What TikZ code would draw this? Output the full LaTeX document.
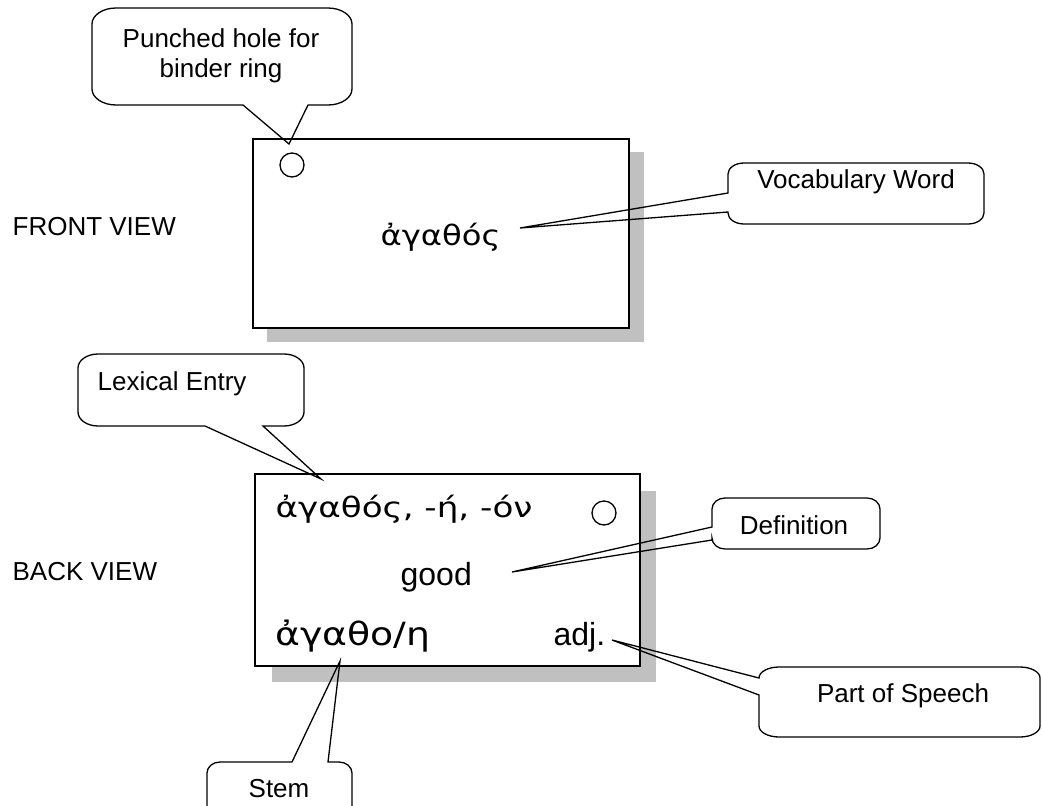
\documentclass[tikz,border=0pt]{standalone}
\usepackage{fontspec}
\setmainfont{Liberation Sans}
\newfontfamily\grk{DejaVu Sans}
\definecolor{shadowgray}{HTML}{C0C0C0}
\begin{document}
\begin{tikzpicture}[x=1pt,y=-1pt,line width=1.3pt,
  lbl/.style={inner sep=0pt,font=\fontsize{26}{30}\selectfont},
  big/.style={inner sep=0pt,font=\fontsize{32}{36}\selectfont},
  greek/.style={inner sep=0pt,font=\grk\fontsize{28}{32}\selectfont},
  card/.style={draw=black,fill=white,line width=1.3pt},
  shadow/.style={fill=shadowgray,draw=none},
  hole/.style={draw=black,line width=1.3pt},
  callout/.style={draw=black,line width=1.3pt,line join=miter}]
\useasboundingbox (0,0) rectangle (1042,806);
% front card
\fill[shadow] (267,152) rectangle (644,342);
\draw[card] (253,139) rectangle (629,328);
\draw[hole] (292,165) circle[radius=12];
% back card
\fill[shadow] (272,491) rectangle (656,682);
\draw[card] (255,474) rectangle (640,666);
\draw[hole] (604,513) circle[radius=12];
% side labels
\node[lbl,anchor=base west] (front) at (12,235) {FRONT VIEW};
\node[lbl,anchor=base west] (back) at (12,580) {BACK VIEW};
% card texts
\node[greek,anchor=base west] (word) at (380,245) {\scalebox{1.15}[1]{ἀγαθός}};
\node[greek,anchor=base west] (lex) at (275,517) {\scalebox{1.22}[1]{ἀγαθός, -ή, -όν}};
\node[big,anchor=base west] (good) at (400,585) {good};
\node[greek,anchor=base west,font=\grk\fontsize{32}{36}\selectfont] (stem) at (275,645) {\scalebox{1.18}[1]{ἀγαθο/η}};
\node[big,anchor=base west] (adj) at (553,645) {adj.};
% tips
\coordinate (tipP) at (289,144);
\coordinate (tipV) at (520,228);
\coordinate (tipX) at (321,479);
\coordinate (tipD) at (512,572);
\coordinate (tipS) at (612,640);
\coordinate (tipT) at (340,661);
% callout: punched hole
\draw[callout] (116,8) -- (328,8) .. controls (341.25,8) and (352,15.17) .. (352,24) -- (352,89) .. controls (352,97.83) and (341.25,105) .. (328,105) -- (308,105) -- (tipP) -- (243,105) -- (116,105) .. controls (102.75,105) and (92,97.83) .. (92,89) -- (92,24) .. controls (92,15.17) and (102.75,8) .. (116,8) -- cycle;
\node[lbl,anchor=base] (punchA) at (221,47) {Punched hole for};
\node[lbl,anchor=base] (punchB) at (221,77) {binder ring};
% callout: vocabulary word
\draw[callout] (744,163) -- (968,163) .. controls (976.8,163) and (984,167.9) .. (984,174) -- (984,213) .. controls (984,219.1) and (976.8,224) .. (968,224) -- (744,224) .. controls (735.2,224) and (728,219.1) .. (728,213) -- (728,212) -- (tipV) -- (728,193) -- (728,174) .. controls (728,167.9) and (735.2,163) .. (744,163) -- cycle;
\node[lbl,anchor=base] (vocab) at (856,188) {Vocabulary Word};
% callout: lexical entry
\draw[callout] (98,354) -- (284,354) .. controls (295.04,354) and (304,360.27) .. (304,368) -- (304,412) .. controls (304,419.73) and (295.04,426) .. (284,426) -- (263,426) -- (tipX) -- (205,426) -- (98,426) .. controls (86.96,426) and (78,419.73) .. (78,412) -- (78,368) .. controls (78,360.27) and (86.96,354) .. (98,354) -- cycle;
\node[lbl,anchor=base west] (lexical) at (97,390) {Lexical Entry};
% callout: definition
\draw[callout] (725,498) -- (867,498) .. controls (874.18,498) and (880,502.93) .. (880,509) -- (880,538) .. controls (880,544.07) and (874.18,549) .. (867,549) -- (725,549) .. controls (717.82,549) and (712,544.07) .. (712,538) -- (712,540) -- (tipD) -- (712,527) -- (712,509) .. controls (712,502.93) and (717.82,498) .. (725,498) -- cycle;
\node[lbl,anchor=base] (defn) at (794,534) {Definition};
% callout: part of speech
\draw[callout] (779,667) -- (1020,667) .. controls (1031.04,667) and (1040,671.93) .. (1040,678) -- (1040,726) .. controls (1040,732.07) and (1031.04,737) .. (1020,737) -- (779,737) .. controls (767.96,737) and (759,732.07) .. (759,726) -- (759,695) -- (tipS) -- (759,678) .. controls (759,671.93) and (767.96,667) .. (779,667) -- cycle;
\node[lbl,anchor=base] (pos) at (903,702) {Part of Speech};
% callout: stem
\draw[callout] (220,762) -- (292,762) -- (tipT) -- (328,762) -- (339,762) .. controls (346.18,762) and (352,766.93) .. (352,773) -- (352,819) .. controls (352,825.07) and (346.18,830) .. (339,830) -- (220,830) .. controls (212.82,830) and (207,825.07) .. (207,819) -- (207,773) .. controls (207,766.93) and (212.82,762) .. (220,762) -- cycle;
\node[lbl,anchor=base] (stemlbl) at (279,797) {Stem};
\end{tikzpicture}
\end{document}
